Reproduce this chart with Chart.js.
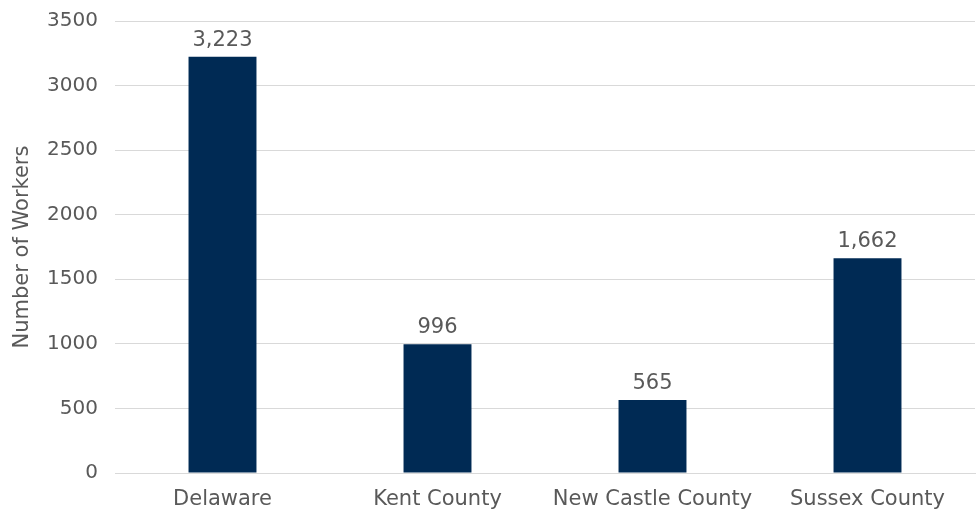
<!DOCTYPE html>
<html>
<head>
<meta charset="utf-8">
<script src="https://cdn.jsdelivr.net/npm/chart.js@4"></script>
<style>
  html, body { margin: 0; padding: 0; background: #fff; }
  #wrap { width: 979px; height: 514px; }
</style>
</head>
<body>
<div id="wrap"><canvas id="workersChart"></canvas></div>
<script>
// Chart data
const categories = ['Delaware', 'Kent County', 'New Castle County', 'Sussex County'];
const workers = [3223, 996, 565, 1662];
const yTicks = [0, 500, 1000, 1500, 2000, 2500, 3000, 3500];

const textColor = '#595959';
const gridColor = '#d9d9d9';
const fontFamily = '"DejaVu Sans", sans-serif';

// Draw value labels above each bar
const valueLabels = {
    id: 'valueLabels',
    afterDatasetsDraw(chart) {
        const ctx = chart.ctx;
        const meta = chart.getDatasetMeta(0);
        ctx.save();
        ctx.font = '21px ' + fontFamily;
        ctx.fillStyle = textColor;
        ctx.textAlign = 'center';
        ctx.textBaseline = 'bottom';
        meta.data.forEach((bar, i) => {
            ctx.fillText(workers[i].toLocaleString('en-US'), bar.x, bar.y - 6);
        });
        ctx.restore();
    }
};

const ctx = document.getElementById('workersChart').getContext('2d');
new Chart(ctx, {
    type: 'bar',
    data: {
        labels: categories,
        datasets: [{
            label: 'Number of Workers',
            data: workers,
            backgroundColor: '#002a54',
            categoryPercentage: 1,
            barPercentage: 0.316
        }]
    },
    options: {
        responsive: true,
        maintainAspectRatio: false,
        animation: false,
        layout: { padding: { top: 21, right: 4, left: 0, bottom: 0 } },
        plugins: {
            legend: { display: false },
            tooltip: { enabled: false }
        },
        scales: {
            x: {
                grid: { display: false, drawTicks: false },
                border: { display: true, color: gridColor, width: 1 },
                ticks: {
                    color: textColor,
                    font: { family: fontFamily, size: 21 },
                    padding: 14,
                    maxRotation: 0
                },
                afterFit: (scale) => { scale.height = 41; }
            },
            y: {
                min: 0,
                max: 3500,
                afterBuildTicks: (scale) => {
                    scale.ticks = yTicks.map(v => ({ value: v }));
                },
                grid: { color: gridColor, drawTicks: false },
                border: { display: false },
                ticks: {
                    color: textColor,
                    font: { family: fontFamily, size: 20 },
                    padding: 17,
                    callback: (v) => String(v)
                },
                title: {
                    display: true,
                    text: 'Number of Workers',
                    color: textColor,
                    font: { family: fontFamily, size: 21 },
                    padding: { top: 10, bottom: 0 }
                },
                afterFit: (scale) => {
                    scale.width = 115;
                    scale.paddingTop = 0;
                    scale.paddingBottom = 0;
                }
            }
        }
    },
    plugins: [valueLabels]
});
</script>
</body>
</html>
